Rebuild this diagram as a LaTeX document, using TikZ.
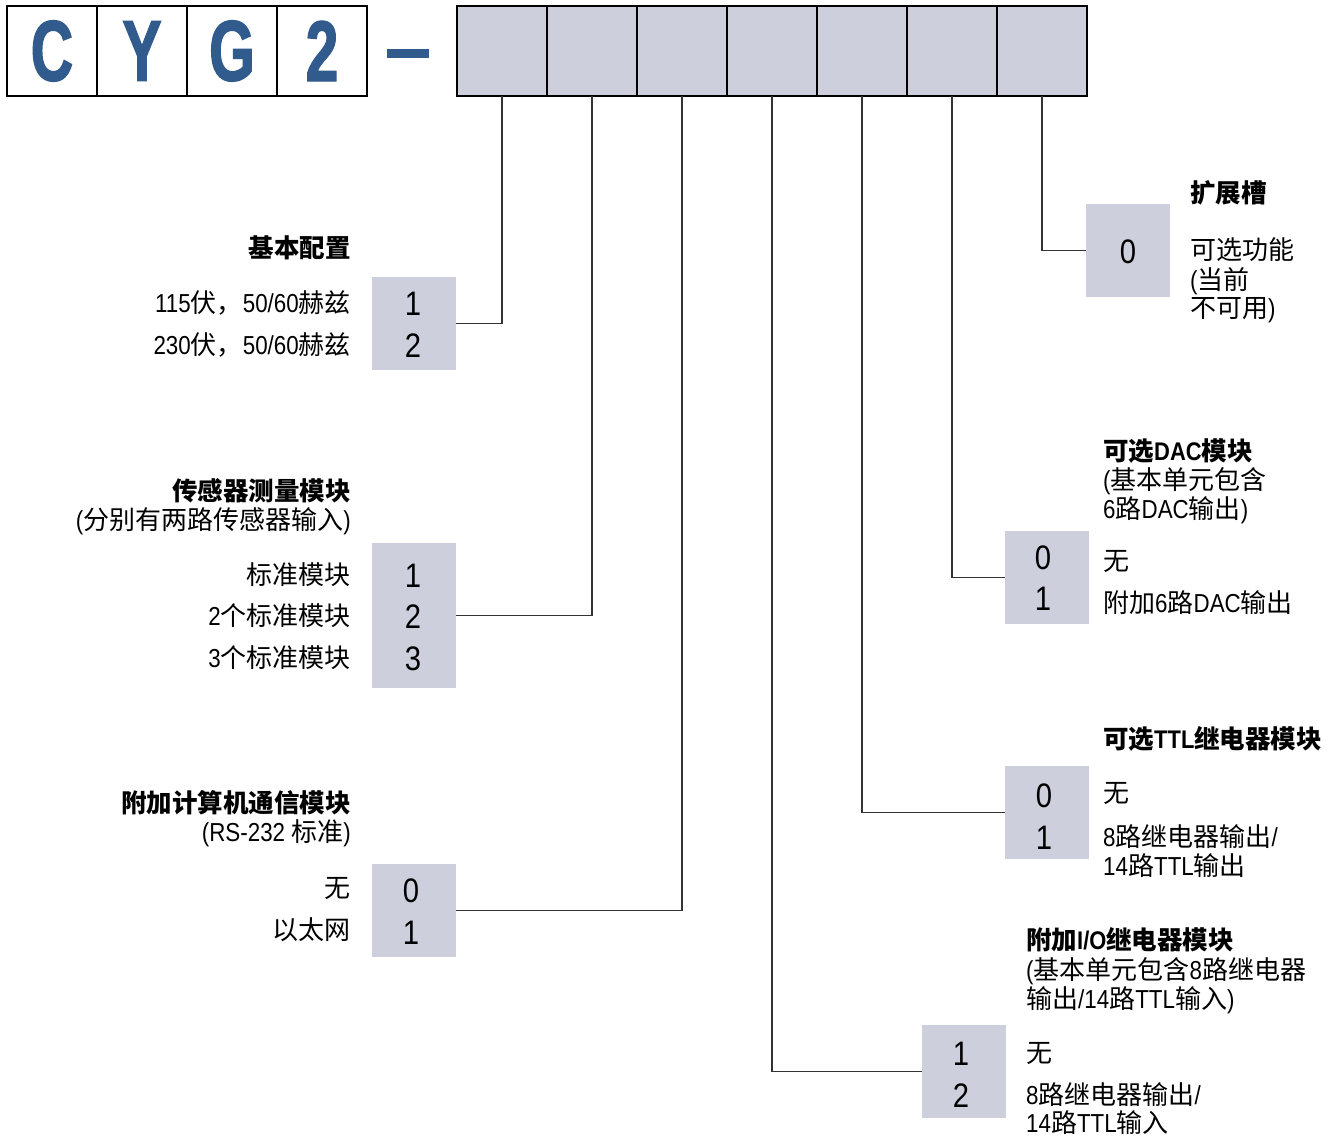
\documentclass[tikz,border=0pt]{standalone}
\usepackage{fontspec}
\setmainfont{Liberation Sans}[FakeStretch=0.86]
\newfontfamily\cjk{Noto Sans CJK SC}
\newfontfamily\bigfam{Liberation Sans}[FakeStretch=0.68,FakeBold=1.6]
\newcommand\zh[1]{{\cjk #1}}
\definecolor{cygblue}{HTML}{315B8D}
\definecolor{slotgray}{HTML}{CDCFDD}
\definecolor{connline}{HTML}{333333}
\begin{document}
\begin{tikzpicture}[x=1pt,y=-1pt,
 codebox/.style={draw=black, line width=1.3pt, minimum width=90pt, minimum height=90pt, inner sep=0pt, outer sep=0pt, anchor=north west},
 letterbox/.style={codebox, fill=white, text=cygblue, font=\bigfam\bfseries\fontsize{86}{86}\selectfont},
 slotbox/.style={codebox, fill=slotgray},
 optbox/.style={fill=slotgray, minimum width=84pt, minimum height=93pt, inner sep=0pt, outer sep=0pt, anchor=north west},
 digit/.style={font=\fontsize{34}{34}\selectfont, anchor=base, inner sep=0pt},
 lbl/.style={font=\fontsize{26}{30}\selectfont, anchor=base east, inner sep=0pt},
 rlbl/.style={font=\fontsize{26}{30}\selectfont, anchor=base west, inner sep=0pt},
 head/.style={font=\bfseries\fontsize{25.5}{30}\selectfont, anchor=base east, inner sep=0pt},
 rhead/.style={font=\bfseries\fontsize{25.5}{30}\selectfont, anchor=base west, inner sep=0pt},
 conn/.style={draw=connline, line width=1.3pt}
]
\useasboundingbox[fill=white] (0,0) rectangle (1332,1137);

% code boxes
\node[letterbox] (c1) at (7,6) {C};
\node[letterbox] (c2) at (97,6) {Y};
\node[letterbox] (c3) at (187,6) {G};
\node[letterbox] (c4) at (277,6) {2};
\node[fill=cygblue, minimum width=42pt, minimum height=9pt, inner sep=0pt] (dash) at (408,54) {};
\foreach \i in {1,...,7}{
  \node[slotbox] (s\i) at ({457+90*(\i-1)},6) {};
}

% option boxes
\node[optbox] (o1) at (372,277) {};
\node[optbox, minimum height=145pt] (o2) at (372,543) {};
\node[optbox] (o3) at (372,864) {};
\node[optbox] (o4) at (922,1025) {};
\node[optbox] (o5) at (1005,766) {};
\node[optbox] (o6) at (1005,531) {};
\node[optbox] (o7) at (1086,204) {};

% connectors
\draw[conn] (s1.south) |- (o1.east);
\draw[conn] (s2.south) |- (o2.east);
\draw[conn] (s3.south) |- (o3.east);
\draw[conn] (s4.south) |- (o4.west);
\draw[conn] (s5.south) |- (o5.west);
\draw[conn] (s6.south) |- (o6.west);
\draw[conn] (s7.south) |- (o7.west);

% digits
\node[digit] (d1a) at (413,315) {1};
\node[digit] (d1b) at (413,357) {2};
\node[digit] (d2a) at (413,587) {1};
\node[digit] (d2b) at (413,628) {2};
\node[digit] (d2c) at (413,670) {3};
\node[digit] (d3a) at (411,902) {0};
\node[digit] (d3b) at (411,944) {1};
\node[digit] (d4a) at (961,1065) {1};
\node[digit] (d4b) at (961,1107) {2};
\node[digit] (d5a) at (1044,807) {0};
\node[digit] (d5b) at (1044,849) {1};
\node[digit] (d6a) at (1043,569) {0};
\node[digit] (d6b) at (1043,610) {1};
\node[digit] (d7a) at (1128,263) {0};

% left labels
\node[head] (h1) at (351,257) {\zh{基本配置}};
\node[lbl] (l1a) at (351,312) {115\zh{伏，}50/60\zh{赫兹}};
\node[lbl] (l1b) at (351,354) {230\zh{伏，}50/60\zh{赫兹}};

\node[head] (h2) at (351,500) {\zh{传感器测量模块}};
\node[lbl] (h2s) at (351,529) {(\zh{分别有两路传感器输入})};
\node[lbl] (l2a) at (351,584) {\zh{标准模块}};
\node[lbl] (l2b) at (351,625) {2\zh{个标准模块}};
\node[lbl] (l2c) at (351,667) {3\zh{个标准模块}};

\node[head] (h3) at (351,812) {\zh{附加计算机通信模块}};
\node[lbl] (h3s) at (351,841) {(RS-232 \zh{标准})};
\node[lbl] (l3a) at (351,897) {\zh{无}};
\node[lbl] (l3b) at (351,939) {\zh{以太网}};

% right labels
\node[rhead] (h4) at (1026,949) {\zh{附加}I/O\zh{继电器模块}};
\node[rlbl] (h4s) at (1026,979) {(\zh{基本单元包含}8\zh{路继电器}};
\node[rlbl] (h4t) at (1026,1008) {\zh{输出}/14\zh{路}TTL\zh{输入})};
\node[rlbl] (l4a) at (1026,1062) {\zh{无}};
\node[rlbl] (l4b) at (1026,1104) {8\zh{路继电器输出}/};
\node[rlbl] (l4c) at (1026,1132) {14\zh{路}TTL\zh{输入}};

\node[rhead] (h5) at (1103,748) {\zh{可选}TTL\zh{继电器模块}};
\node[rlbl] (l5a) at (1103,802) {\zh{无}};
\node[rlbl] (l5b) at (1103,846) {8\zh{路继电器输出}/};
\node[rlbl] (l5c) at (1103,875) {14\zh{路}TTL\zh{输出}};

\node[rhead] (h6) at (1103,460) {\zh{可选}DAC\zh{模块}};
\node[rlbl] (h6s) at (1103,489) {(\zh{基本单元包含}};
\node[rlbl] (h6t) at (1103,518) {6\zh{路}DAC\zh{输出})};
\node[rlbl] (l6a) at (1103,570) {\zh{无}};
\node[rlbl] (l6b) at (1103,612) {\zh{附加}6\zh{路}DAC\zh{输出}};

\node[rhead] (h7) at (1190,202) {\zh{扩展槽}};
\node[rlbl] (l7a) at (1190,259) {\zh{可选功能}};
\node[rlbl] (l7b) at (1190,289) {(\zh{当前}};
\node[rlbl] (l7c) at (1190,317) {\zh{不可用})};
\end{tikzpicture}
\end{document}
